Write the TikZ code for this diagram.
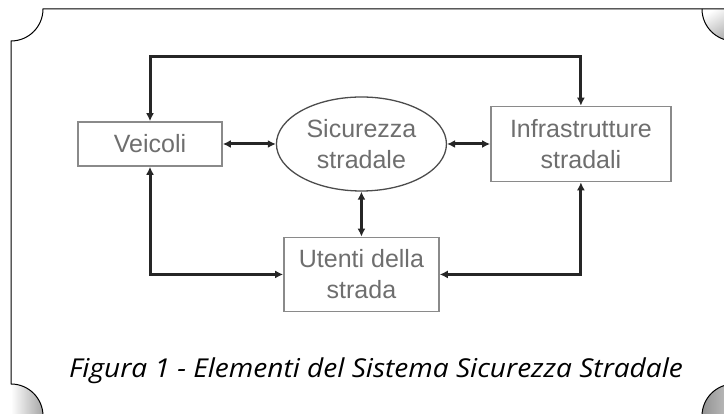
\documentclass[tikz,border=0pt]{standalone}
\usepackage{fontspec}
\setmainfont{Liberation Sans}
\newfontfamily\capfont{Open Sans}
\usetikzlibrary{arrows.meta, positioning, shapes.geometric}
\usepackage{xcolor}
\definecolor{boxgray}{HTML}{8A8A8A}
\definecolor{txtgray}{HTML}{6E6E6E}

\begin{document}
\begin{tikzpicture}[
x=1pt, y=1pt,
node distance=45pt,
box/.style={draw=boxgray, rectangle, line width=1.6pt, text=txtgray,
align=center, font=\fontsize{25}{31}\selectfont},
oval/.style={draw=black!70, ellipse, line width=1.3pt, inner sep=0pt,
minimum width=170pt, minimum height=94pt, text=txtgray,
align=center, font=\fontsize{25}{31}\selectfont},
arrow/.style={{Latex[length=8pt,width=8pt]}-{Latex[length=8pt,width=8pt]}, line width=3pt, black!85},
frame/.style={line width=1pt}
]
\useasboundingbox (0,0) rectangle (724,414);

\begin{scope}
\clip (0,0) rectangle (724,414);
\shade[left color=white, right color=gray!70] (11,-2) -- (11,30) arc[start angle=90, end angle=0, radius=32] -- cycle;
\shade[left color=gray!85, right color=gray!45] (734,-2) -- (702,-2) arc[start angle=180, end angle=90, radius=32] -- cycle;
\shade[top color=white, bottom color=gray!65, shading angle=30] (734,405) -- (702,405) arc[start angle=180, end angle=270, radius=32] -- cycle;
\draw[frame] (702,-2) arc[start angle=180, end angle=90, radius=32];
\draw[frame] (743,405) -- (43,405) arc[start angle=0, end angle=-90, radius=32]
-- (11,30) arc[start angle=90, end angle=0, radius=32];
\draw[frame] (702,405) arc[start angle=180, end angle=270, radius=32];
\end{scope}

\node[box, minimum width=144pt, minimum height=44pt] (veicoli) at (150,270) {Veicoli};
\node[oval, right=53pt of veicoli] (sicurezza) {Sicurezza\\stradale};
\node[box, right=43pt of sicurezza, minimum width=180pt, minimum height=75pt] (infra) {Infrastrutture\\stradali};
\node[box, below=45pt of sicurezza, minimum width=155pt, minimum height=74pt] (utenti) {Utenti della\\strada};
\coordinate (top) at (360,357);

\draw[arrow] (veicoli) -- (sicurezza);
\draw[arrow] (sicurezza) -- (infra);
\draw[arrow] (sicurezza) -- (utenti);
\draw[arrow] (veicoli.north) -- (veicoli.north |- top) -| (infra.north);
\draw[arrow] (veicoli.south) |- (utenti.west);
\draw[arrow] (infra.south) |- (utenti.east);

\node[anchor=base, xscale=1.08, font=\capfont\itshape\fontsize{26}{30}\selectfont] (caption) at (376,36) {Figura 1 - Elementi del Sistema Sicurezza Stradale};
\end{tikzpicture}
\end{document}
